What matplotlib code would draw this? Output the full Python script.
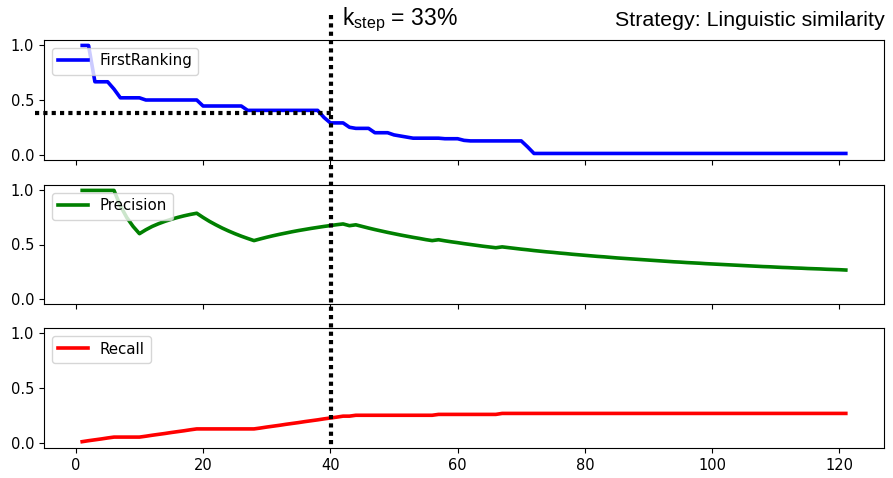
import matplotlib
matplotlib.use("Agg")
import matplotlib.pyplot as plt
from matplotlib.lines import Line2D

# ---------------- data ----------------
ranks = list(range(1, 122))

first_ranking = [
    1.0, 1.0, 0.667, 0.667, 0.667, 0.6, 0.52, 0.52, 0.52, 0.52,
    0.5, 0.5, 0.5, 0.5, 0.5, 0.5, 0.5, 0.5, 0.5, 0.445,
    0.445, 0.445, 0.445, 0.445, 0.445, 0.445, 0.405, 0.405, 0.405, 0.405,
    0.405, 0.405, 0.405, 0.405, 0.405, 0.405, 0.405, 0.405, 0.34, 0.29,
    0.29, 0.29, 0.25, 0.24, 0.24, 0.24, 0.2, 0.2, 0.2, 0.18,
    0.17, 0.16, 0.15, 0.15, 0.15, 0.15, 0.15, 0.145, 0.145, 0.145,
    0.13, 0.125, 0.125, 0.125, 0.125, 0.125, 0.125, 0.125, 0.125, 0.125,
    0.07, 0.01, 0.01, 0.01, 0.01, 0.01, 0.01, 0.01, 0.01, 0.01,
    0.01, 0.01, 0.01, 0.01, 0.01, 0.01, 0.01, 0.01, 0.01, 0.01,
    0.01, 0.01, 0.01, 0.01, 0.01, 0.01, 0.01, 0.01, 0.01, 0.01,
    0.01, 0.01, 0.01, 0.01, 0.01, 0.01, 0.01, 0.01, 0.01, 0.01,
    0.01, 0.01, 0.01, 0.01, 0.01, 0.01, 0.01, 0.01, 0.01, 0.01,
    0.01,
]

precision = [
    1.0, 1.0, 1.0, 1.0, 1.0, 1.0, 0.857, 0.75, 0.667, 0.6,
    0.636, 0.667, 0.692, 0.714, 0.733, 0.75, 0.765, 0.778, 0.789, 0.75,
    0.714, 0.682, 0.652, 0.625, 0.6, 0.577, 0.556, 0.536, 0.552, 0.567,
    0.581, 0.594, 0.606, 0.618, 0.629, 0.639, 0.649, 0.658, 0.667, 0.675,
    0.683, 0.69, 0.674, 0.682, 0.667, 0.652, 0.638, 0.625, 0.612, 0.6,
    0.588, 0.577, 0.566, 0.556, 0.545, 0.536, 0.544, 0.534, 0.525, 0.517,
    0.508, 0.5, 0.492, 0.484, 0.477, 0.47, 0.478, 0.471, 0.464, 0.457,
    0.451, 0.444, 0.438, 0.432, 0.427, 0.421, 0.416, 0.41, 0.405, 0.4,
    0.395, 0.39, 0.386, 0.381, 0.376, 0.372, 0.368, 0.364, 0.36, 0.356,
    0.352, 0.348, 0.344, 0.34, 0.337, 0.333, 0.33, 0.327, 0.323, 0.32,
    0.317, 0.314, 0.311, 0.308, 0.305, 0.302, 0.299, 0.296, 0.294, 0.291,
    0.288, 0.286, 0.283, 0.281, 0.278, 0.276, 0.274, 0.271, 0.269, 0.267,
    0.264,
]

recall = [
    0.008, 0.017, 0.025, 0.033, 0.042, 0.05, 0.05, 0.05, 0.05, 0.05,
    0.058, 0.067, 0.075, 0.083, 0.092, 0.1, 0.108, 0.117, 0.125, 0.125,
    0.125, 0.125, 0.125, 0.125, 0.125, 0.125, 0.125, 0.125, 0.133, 0.142,
    0.15, 0.158, 0.167, 0.175, 0.183, 0.192, 0.2, 0.208, 0.217, 0.225,
    0.233, 0.242, 0.242, 0.25, 0.25, 0.25, 0.25, 0.25, 0.25, 0.25,
    0.25, 0.25, 0.25, 0.25, 0.25, 0.25, 0.258, 0.258, 0.258, 0.258,
    0.258, 0.258, 0.258, 0.258, 0.258, 0.258, 0.267, 0.267, 0.267, 0.267,
    0.267, 0.267, 0.267, 0.267, 0.267, 0.267, 0.267, 0.267, 0.267, 0.267,
    0.267, 0.267, 0.267, 0.267, 0.267, 0.267, 0.267, 0.267, 0.267, 0.267,
    0.267, 0.267, 0.267, 0.267, 0.267, 0.267, 0.267, 0.267, 0.267, 0.267,
    0.267, 0.267, 0.267, 0.267, 0.267, 0.267, 0.267, 0.267, 0.267, 0.267,
    0.267, 0.267, 0.267, 0.267, 0.267, 0.267, 0.267, 0.267, 0.267, 0.267,
    0.267,
]

series_labels = ["FirstRanking", "Precision", "Recall"]
series_colors = ["b", "g", "r"]
k_step = 40.15
threshold = 0.38
y_ticks = [0.0, 0.5, 1.0]
x_ticks = [0, 20, 40, 60, 80, 100, 120]
strategy_label = "Strategy: Linguistic similarity"
kstep_label = r"k$_{\mathrm{step}}$ = 33%"

# ---------------- figure ----------------
plt.rcParams["mathtext.fontset"] = "custom"
plt.rcParams["mathtext.rm"] = "Liberation Sans"
plt.rcParams["mathtext.it"] = "Liberation Sans:italic"

W, H = 893, 478
fig = plt.figure(figsize=(W / 100, H / 100), dpi=100)

def px_axes(left, top, right, bottom):
    return fig.add_axes([left / W, 1 - bottom / H, (right - left) / W, (bottom - top) / H])

ax1 = px_axes(44, 40, 884, 160)
ax2 = px_axes(44, 185, 884, 304)
ax3 = px_axes(44, 328, 884, 448)
axes = [ax1, ax2, ax3]
data = [first_ranking, precision, recall]

for ax, vals, lab, col in zip(axes, data, series_labels, series_colors):
    ax.plot(ranks, vals, color=col, lw=2.6, label=lab)
    ax.set_xlim(-5, 127)
    ax.set_ylim(-0.05, 1.05)
    ax.set_yticks(y_ticks)
    ax.set_xticks(x_ticks)
    ax.tick_params(labelsize=10.5)
    ax.legend(loc="upper left", fontsize=10.8, handlelength=2.0,
              borderaxespad=0.5)
ax1.tick_params(labelbottom=False)
ax2.tick_params(labelbottom=False)

# dotted guide lines (drawn at figure level so they cross all panels)
inv = fig.transFigure.inverted()
xk = inv.transform(ax3.transData.transform((k_step, 0)))[0]
vline = Line2D([xk, xk], [1 - 15 / H, 1 - 445 / H], transform=fig.transFigure,
               color="black", lw=3.0, linestyle=(0, (1, 1)), zorder=10)
fig.add_artist(vline)
yt = inv.transform(ax1.transData.transform((0, threshold)))[1]
hline = Line2D([35 / W, xk], [yt, yt], transform=fig.transFigure,
               color="black", lw=3.0, linestyle=(0, (1, 1)), zorder=10)
fig.add_artist(hline)

fig.text(342 / W, 1 - 25 / H, kstep_label, fontsize=16.5,
         family="Liberation Sans", ha="left", va="baseline")
fig.text(885 / W, 1 - 26 / H, strategy_label, fontsize=15.4,
         family="Liberation Sans", ha="right", va="baseline")

fig.savefig("out.png", dpi=100)
